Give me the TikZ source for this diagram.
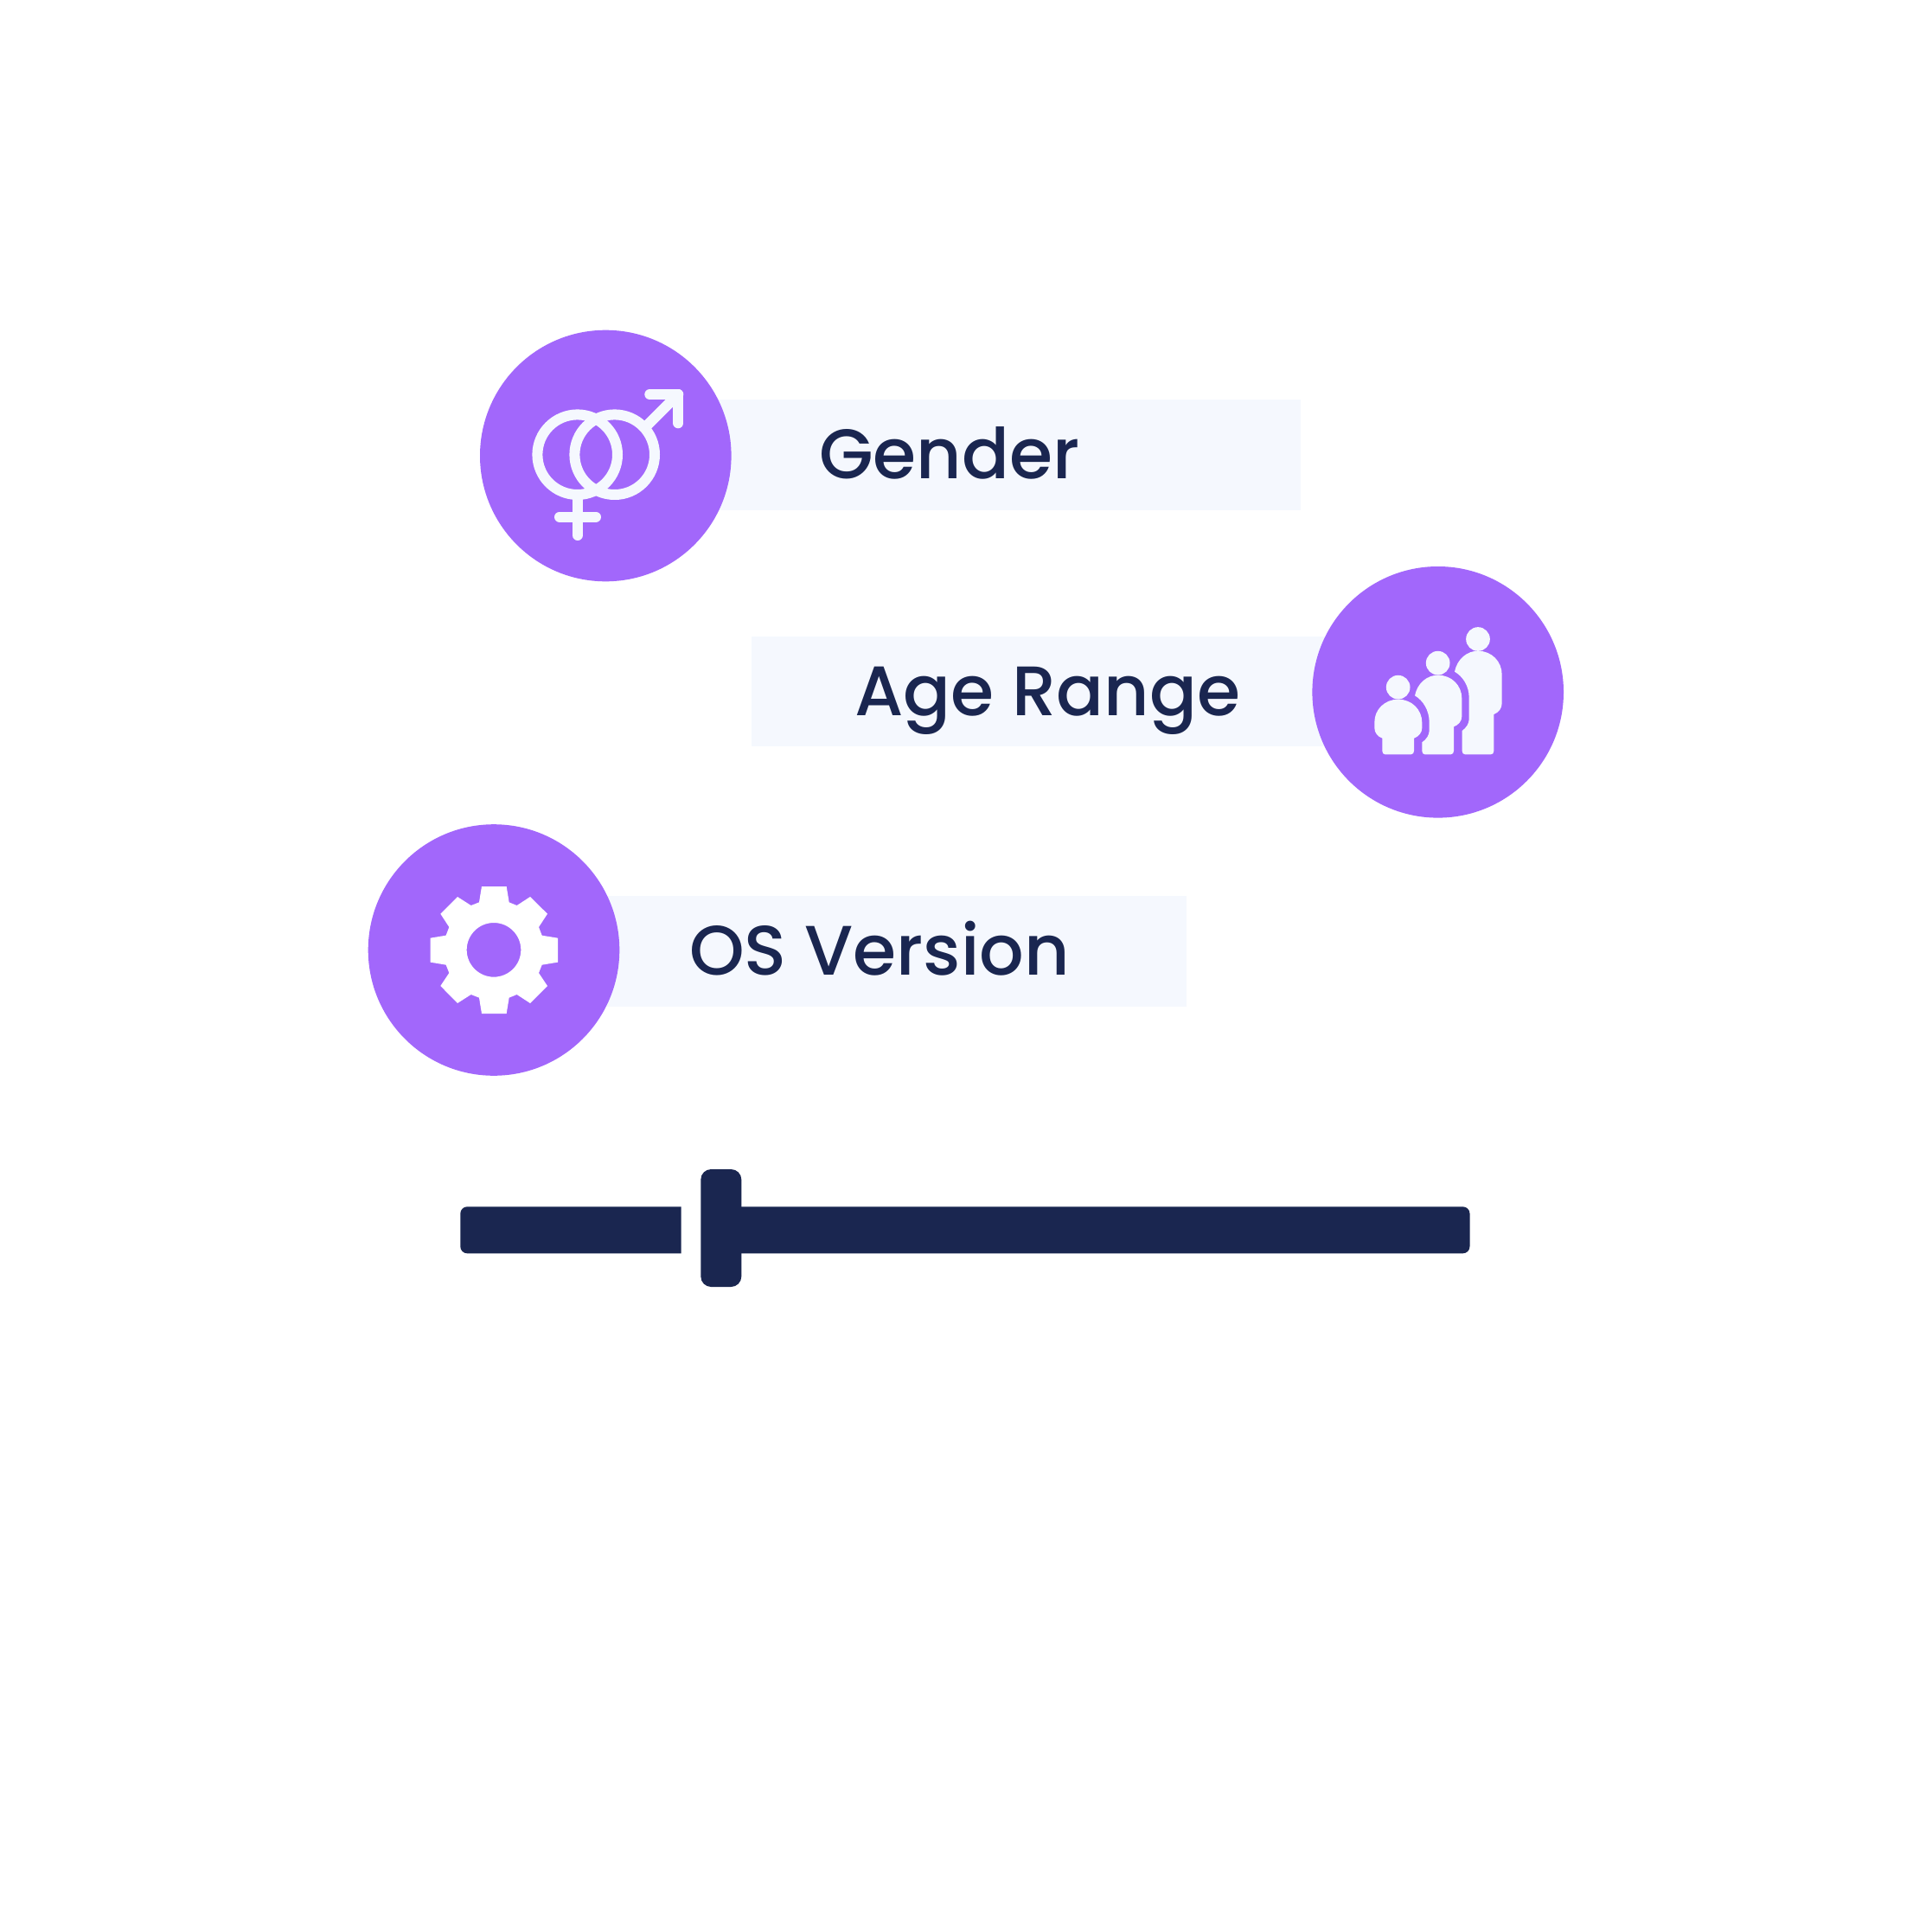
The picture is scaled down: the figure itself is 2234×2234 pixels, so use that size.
\documentclass[tikz,border=0pt]{standalone}
\usepackage{fontspec}
\newfontfamily\labfont{Poppins Medium}
\definecolor{violetc}{HTML}{A267FB}
\definecolor{navyc}{HTML}{1A2650}
\definecolor{palec}{HTML}{F5F8FE}
\tikzset{
  disc/.style={circle,fill=violetc,inner sep=0pt,minimum size=290.6pt,draw=none},
  band/.style={rectangle,fill=palec,inner sep=0pt,minimum height=127.5pt,draw=none,anchor=west},
  lab/.style={inner sep=0pt,anchor=base west,text=navyc,font=\labfont\fontsize{81}{81}\selectfont},
  glyphline/.style={draw=palec,line width=12pt,line cap=round,line join=round},
  barfill/.style={fill=navyc,draw=none},
}
\begin{document}
\begin{tikzpicture}[x=1pt,y=-1pt]
\useasboundingbox (0,0) rectangle (2234,2234);
\fill[white] (0,0) rectangle (2234,2234);
% bands
\node[band,minimum width=674pt] (bandG) at (830,526) {};
\node[band,minimum width=679pt] (bandA) at (869,799.5) {};
\node[band,minimum width=672pt] (bandO) at (700,1100) {};
% discs
\node[disc] (discG) at (700.3,527) {};
\node[disc] (discA) at (1662.7,800.3) {};
\node[disc] (discO) at (571,1098.5) {};
% labels
\node[lab] (labG) at (947,553) {Gender};
\node[lab] (labA) at (988,827) {Age Range};
\node[lab] (labO) at (797,1127) {OS Version};
% gender glyph
\draw[glyphline] (667.7,525.7) circle (46.3);
\draw[glyphline] (710.7,525.7) circle (46.3);
\draw[glyphline] (668,572) -- (668,619);
\draw[glyphline] (647,597.7) -- (689,597.7);
\draw[glyphline] (747,493) -- (784.3,456);
\draw[glyphline] (751.3,456) -- (784.3,456) -- (784.3,489.3);
% age glyph
\begin{scope}[shift={(1510,650)},scale=0.33333]
\fill[palec] (597,267) circle (41.5);
\fill[palec] (458,350) circle (41.5);
\fill[palec] (320,434) circle (41.5);
\fill[palec] (516,380) .. controls (525,335) and (560,308) .. (597,308)
  .. controls (645,308) and (680,345) .. (680,390) -- (680,490)
  .. controls (680,508) and (668,522) .. (652,528) -- (652,655)
  .. controls (652,662) and (648,667) .. (642,667) -- (552,667)
  .. controls (546,667) and (542,662) .. (542,655) -- (542,585)
  .. controls (556,575) and (566,560) .. (566,545) -- (566,470)
  .. controls (566,430) and (545,397) .. (516,380) -- cycle;
\fill[palec] (378,463) .. controls (387,418) and (422,392) .. (458,392)
  .. controls (506,392) and (541,428) .. (541,473) -- (541,535)
  .. controls (541,552) and (529,565) .. (513,571) -- (513,655)
  .. controls (513,662) and (509,667) .. (503,667) -- (413,667)
  .. controls (407,667) and (403,662) .. (403,655) -- (403,625)
  .. controls (418,615) and (428,600) .. (428,585) -- (428,555)
  .. controls (428,515) and (407,480) .. (378,463) -- cycle;
\fill[palec] (238,555) .. controls (238,510) and (275,476) .. (320,476)
  .. controls (368,476) and (403,512) .. (403,557) -- (403,575)
  .. controls (403,592) and (391,605) .. (375,611) -- (375,655)
  .. controls (375,662) and (371,667) .. (365,667) -- (275,667)
  .. controls (269,667) and (265,662) .. (265,655) -- (265,611)
  .. controls (249,605) and (238,592) .. (238,575) -- cycle;
\end{scope}
% gear glyph
\begin{scope}[shift={(420,950)},scale=0.33333]
\fill[white,even odd rule] (411,225) -- (497,225) -- (506,280) -- (533,291) -- (579,261) -- (639,320)
  -- (609,366) -- (620,395) -- (675,404) -- (675,488) -- (620,497) -- (609,525) -- (639,570)
  -- (579,630) -- (533,600) -- (506,611) -- (497,666) -- (411,666) -- (402,611) -- (374,600)
  -- (327,630) -- (268,570) -- (298,525) -- (287,497) -- (233,488) -- (233,404) -- (287,395)
  -- (298,366) -- (268,320) -- (327,261) -- (374,291) -- (402,280) -- cycle
  (453,445) circle (94);
\end{scope}
% slider
\fill[barfill] (787.7,1395.3) -- (540.3,1395.3) arc[start angle=270,end angle=180,radius=8] -- (532.3,1441.3) arc[start angle=180,end angle=90,radius=8] -- (787.7,1449.3) -- cycle;
\fill[barfill] (812,1395.3) -- (1691.5,1395.3) arc[start angle=270,end angle=360,radius=8] -- (1699.5,1441.3) arc[start angle=0,end angle=90,radius=8] -- (812,1449.3) -- cycle;
\node[rectangle,rounded corners=12pt,fill=navyc,inner sep=0pt,minimum width=47pt,minimum height=136pt] (knob) at (833.8,1420) {};
\end{tikzpicture}
\end{document}
